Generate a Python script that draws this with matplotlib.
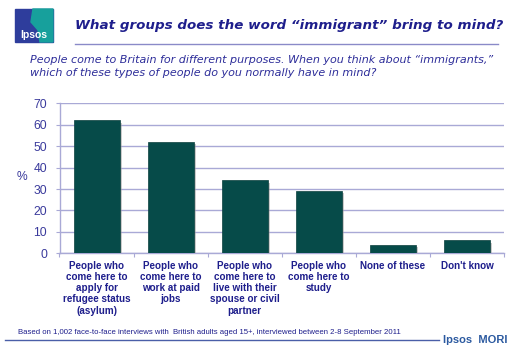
import matplotlib
matplotlib.use("Agg")
import matplotlib.pyplot as plt
from matplotlib.patches import Rectangle, Polygon
from matplotlib.lines import Line2D
import matplotlib.patheffects as pe

categories = [
    "People who\ncome here to\napply for\nrefugee status\n(asylum)",
    "People who\ncome here to\nwork at paid\njobs",
    "People who\ncome here to\nlive with their\nspouse or civil\npartner",
    "People who\ncome here to\nstudy",
    "None of these",
    "Don't know",
]
values = [62, 52, 34, 29, 4, 6]
yticks = [0, 10, 20, 30, 40, 50, 60, 70]

title = "What groups does the word \u201cimmigrant\u201d bring to mind?"
subtitle = ("People come to Britain for different purposes. When you think about \u201cimmigrants,\u201d\n"
            "which of these types of people do you normally have in mind?")
footer = "Based on 1,002 face-to-face interviews with  British adults aged 15+, interviewed between 2-8 September 2011"

W, H = 520, 351
plt.rcParams['font.family'] = ['Liberation Sans', 'DejaVu Sans']
fig = plt.figure(figsize=(W / 100, H / 100), dpi=100)
fig.patch.set_facecolor("white")

def fx(x):
    return x / W

def fy(y):
    return 1 - y / H

navy = "#1e1e8c"
tick_col = "#3a3a9c"
grid_col = "#a9a9d6"
bar_col = "#064b49"

ax = fig.add_axes([fx(59.5), fy(253.3), fx(504) - fx(59.5), fy(103.3) - fy(253.3)])
x = list(range(len(categories)))
bars = ax.bar(x, values, width=0.62, color=bar_col, zorder=3,
              edgecolor="#0a3f3d", linewidth=0.5)
for b in bars:
    b.set_path_effects([pe.SimplePatchShadow(offset=(1.5, -1.5), shadow_rgbFace="#999999", alpha=0.5), pe.Normal()])

ax.set_xlim(-0.5, len(categories) - 0.5)
ax.set_ylim(0, 70)
ax.set_yticks(yticks)
ax.set_yticklabels([str(v) for v in yticks], fontsize=8.7, color=tick_col)
ax.yaxis.grid(True, color=grid_col, linewidth=1.0, zorder=0)
ax.tick_params(axis="y", length=3, color=grid_col, pad=6)
ax.set_xticks([i + 0.5 for i in range(-1, len(categories))])
ax.set_xticklabels([])
ax.tick_params(axis="x", length=3, color=grid_col, direction="out")
for s in ["top", "right"]:
    ax.spines[s].set_visible(False)
ax.spines["left"].set_color(grid_col)
ax.spines["bottom"].set_color(grid_col)
ax.spines["left"].set_linewidth(1.0)
ax.spines["bottom"].set_linewidth(1.0)

for i, c in enumerate(categories):
    ax.text(i, -0.05, c, transform=ax.get_xaxis_transform(), ha="center", va="top",
            fontsize=7.1, fontweight="bold", color=navy, linespacing=1.15)

fig.text(fx(22), fy(177), "%", ha="center", va="center", fontsize=8.7, color=tick_col)

# title
fig.text(fx(75), fy(26), title, ha="left", va="center", fontsize=9.7,
         fontweight="bold", fontstyle="italic", color=navy, family=["DejaVu Sans"])
fig.add_artist(Line2D([fx(75), fx(498)], [fy(44.3), fy(44.3)], color="#8a8ac8", linewidth=1.0))
fig.text(fx(30), fy(66.8), subtitle, ha="left", va="center", fontsize=8.0,
         fontstyle="italic", color="#2e2e9a", linespacing=1.42, family=["DejaVu Sans"])

# logo
fig.add_artist(Rectangle((fx(15), fy(42)), fx(38), fy(9) - fy(42), color="#2e3d9c", transform=fig.transFigure))
fig.add_artist(Polygon([(fx(33), fy(9)), (fx(53), fy(9)), (fx(53), fy(42)), (fx(40), fy(42)), (fx(38), fy(30)), (fx(31), fy(22))],
                       closed=True, color="#17a09c", transform=fig.transFigure))
fig.text(fx(34), fy(35), "Ipsos", ha="center", va="center", fontsize=7.5, fontweight="bold", color="white")

# footer
fig.text(fx(18), fy(332), footer, ha="left", va="center", fontsize=5.6, color=navy,
         family=["Liberation Sans Narrow", "Liberation Sans"])
fig.add_artist(Line2D([fx(5), fx(439)], [fy(339.5), fy(339.5)], color="#4a5fa8", linewidth=1.0))
fig.text(fx(443), fy(340), "Ipsos  MORI", ha="left", va="center", fontsize=8, fontweight="bold", color="#2c5aa0")

fig.savefig("out.png", dpi=100)
